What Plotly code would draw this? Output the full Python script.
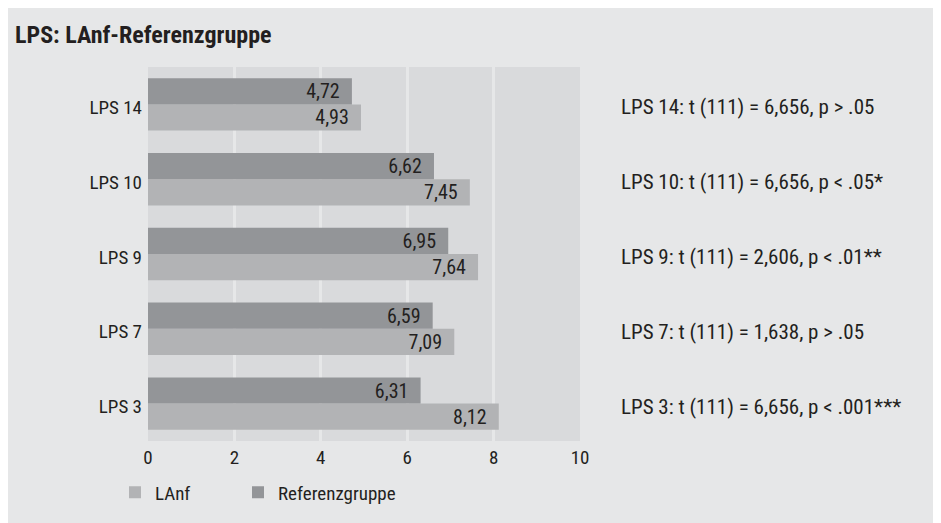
import plotly.graph_objects as go

# data (bottom to top, as plotly draws categories on a y axis)
categories = ["LPS 3", "LPS 7", "LPS 9", "LPS 10", "LPS 14"]
lanf = [8.12, 7.09, 7.64, 7.45, 4.93]
referenz = [6.31, 6.59, 6.95, 6.62, 4.72]
stats = [
    "LPS 3: t (111) = 6,656, p < .001***",
    "LPS 7: t (111) = 1,638, p > .05",
    "LPS 9: t (111) = 2,606, p < .01**",
    "LPS 10: t (111) = 6,656, p < .05*",
    "LPS 14: t (111) = 6,656, p > .05",
]
x_ticks = [0, 2, 4, 6, 8, 10]

# colours / fonts
bg_outer = "#e6e7e8"
bg_plot = "#d9dadc"
col_lanf = "#b2b3b5"
col_ref = "#939598"
txt = "#231f20"
font_family = "Liberation Sans Narrow, Roboto Condensed, Arial Narrow, sans-serif"

# page adds an 8px body margin, so the figure is sized to end at the window edge
W, H = 933, 515
ml, mr, mt, mb = 140, 361, 59, 77
plot_w = W - ml - mr
plot_h = H - mt - mb


def label(v):
    return "{:.2f}".format(v).replace(".", ",") + "\u00a0\u00a0"


fig = go.Figure()

series = [
    ("LAnf", lanf, col_lanf, "legend"),
    ("Referenzgruppe", referenz, col_ref, "legend2"),
]
for name, vals, col, leg in series:
    fig.add_trace(
        go.Bar(
            y=categories,
            x=vals,
            orientation="h",
            name=name,
            legend=leg,
            marker=dict(color=col, line=dict(width=0)),
            text=[label(v) for v in vals],
            textposition="inside",
            insidetextanchor="end",
            constraintext="none",
            textfont=dict(family=font_family, size=20, color=txt),
            hoverinfo="skip",
        )
    )

# t-test results on the right, one per category
for cat, s in zip(categories, stats):
    fig.add_annotation(
        x=(611 - ml) / plot_w,
        xref="paper",
        y=cat,
        yref="y",
        yshift=-3,
        text=s,
        showarrow=False,
        xanchor="left",
        yanchor="middle",
        font=dict(family=font_family, size=21, color=txt),
    )

legend_common = dict(
    orientation="h",
    xanchor="left",
    y=(H - mb - 490) / plot_h,
    yanchor="middle",
    bgcolor="rgba(0,0,0,0)",
    font=dict(family=font_family, size=19, color=txt),
)

fig.update_layout(
    width=W,
    height=H,
    margin=dict(l=ml, r=mr, t=mt, b=mb),
    paper_bgcolor=bg_outer,
    plot_bgcolor=bg_plot,
    barmode="group",
    bargap=0.3,
    bargroupgap=0,
    font=dict(family=font_family, size=19, color=txt),
    title=dict(
        text="<b>LPS: LAnf-Referenzgruppe</b>",
        xref="container",
        x=7 / W,
        xanchor="left",
        y=1 - 27 / H,
        yanchor="middle",
        font=dict(family=font_family, size=24, color=txt),
    ),
    legend=dict(x=(107 - ml) / plot_w, **legend_common),
    legend2=dict(x=(230 - ml) / plot_w, **legend_common),
    showlegend=True,
)

fig.update_xaxes(
    range=[0, 10],
    tickvals=x_ticks,
    showgrid=True,
    gridcolor=bg_outer,
    gridwidth=3,
    zeroline=False,
    showline=False,
    ticks="",
    ticklabelstandoff=3,
    fixedrange=True,
)
fig.update_yaxes(
    showgrid=False,
    zeroline=False,
    showline=False,
    ticks="",
    ticklabelstandoff=5,
    ticklabelshift=3,
    fixedrange=True,
)

fig.write_html("out.html")
